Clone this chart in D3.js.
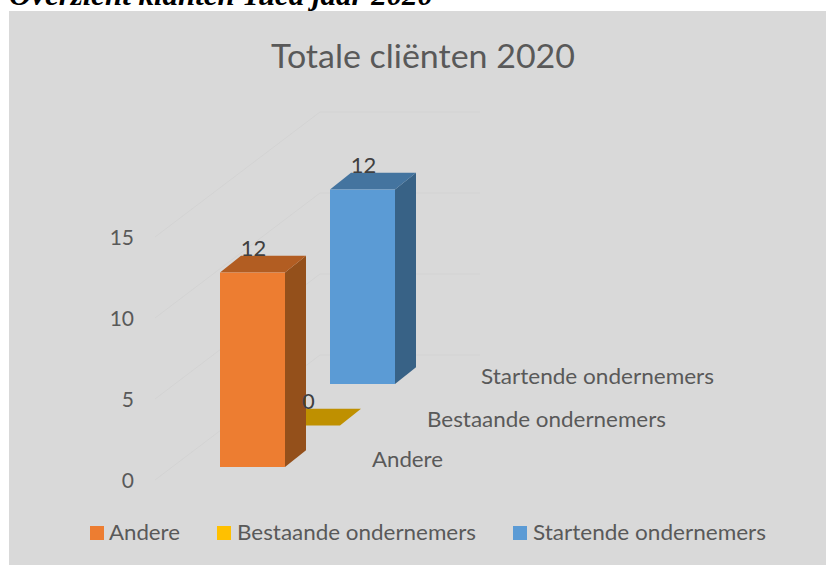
<!DOCTYPE html>
<html><head><meta charset="utf-8">
<script src="https://cdn.jsdelivr.net/npm/d3@7"></script>
<style>html,body{margin:0;padding:0;background:#fff}svg{display:block}text{font-family:Lato,"Open Sans",sans-serif}</style>
</head><body><svg id="c" width="826" height="565"></svg>
<script>
const heading = "Overzicht klanten Yuca jaar 2020";
const chartTitle = "Totale cliënten 2020";
const categories = ["Andere", "Bestaande ondernemers", "Startende ondernemers"];
const values = [12, 0, 12];
const yTicks = [0, 5, 10, 15];
const frontColors = ["#ed7d31", "#ffc000", "#5b9bd5"];
const topColors = ["#b25d22", "#bf9000", "#44749f"];
const sideColors = ["#94501b", "#a07800", "#386286"];
const labelWidths = [71, 239, 233];

const svg = d3.select("#c");
svg.append("rect").attr("x", 9).attr("y", 11).attr("width", 817).attr("height", 554).attr("fill", "#d9d9d9");
svg.append("text").text(heading).attr("x", 9).attr("y", 5)
  .attr("textLength", 424).attr("lengthAdjust", "spacingAndGlyphs")
  .style("font-family", "'Liberation Serif'").style("font-weight", "bold").style("font-style", "italic")
  .style("font-size", "30px").attr("fill", "#000");
svg.append("text").text(chartTitle).attr("x", 271).attr("y", 67.5)
  .attr("textLength", 304).attr("lengthAdjust", "spacingAndGlyphs")
  .style("font-size", "33px").attr("fill", "#595959");

const y = d3.scaleLinear().domain([0, 15]).range([480, 237]);
const depth = d3.scaleLinear().domain([0, 2]).range([0, 1]);
const dx = d3.scaleLinear().domain([0, 1]).range([0, 110]);
const dy = d3.scaleLinear().domain([0, 1]).range([0, -83]);
const barX = d3.scaleLinear().domain([0, 1]).range([220, 285]);
const barBase = 467;
const unit = y(0) - y(1);
const wallDx = 165, wallDy = -125, wallEnd = 480;

const grid = svg.append("g").attr("fill", "none").attr("stroke", "#d3d3d3").attr("stroke-width", 1);
yTicks.forEach(t => {
  grid.append("path").attr("d", d3.line()([[155, y(t)], [155 + wallDx, y(t) + wallDy], [wallEnd, y(t) + wallDy]]));
});
svg.append("g").selectAll("text").data(yTicks).join("text")
  .text(d => d).attr("x", 134).attr("y", d => y(d) + 8).attr("text-anchor", "end")
  .style("font-size", "21px").attr("fill", "#595959");

const depthDx = 21, depthDy = -16.8;
const order = d3.range(categories.length).reverse();
const bars = svg.append("g");
order.forEach(i => {
  const ox = dx(depth(i)), oy = dy(depth(i));
  const x0 = barX(0) + ox, x1 = barX(1) + ox, b = barBase + oy, t = b - values[i] * unit;
  const line = d3.line();
  bars.append("path").attr("d", line([[x1, b], [x1 + depthDx, b + depthDy], [x1 + depthDx, t + depthDy], [x1, t]]) + "Z").attr("fill", sideColors[i]);
  bars.append("path").attr("d", line([[x0, t], [x0 + depthDx, t + depthDy], [x1 + depthDx, t + depthDy], [x1, t]]) + "Z").attr("fill", topColors[i]);
  if (values[i] > 0) bars.append("rect").attr("x", x0).attr("y", t).attr("width", x1 - x0).attr("height", b - t).attr("fill", frontColors[i]);
});
svg.append("g").selectAll("text").data(categories).join("text")
  .text((d, i) => values[i])
  .attr("x", (d, i) => (barX(0) + barX(1)) / 2 + dx(depth(i)) + 1)
  .attr("y", (d, i) => barBase + dy(depth(i)) - values[i] * unit + depthDy)
  .attr("text-anchor", "middle").style("font-size", "22px").attr("fill", "#404040");

const catX = [372, 427, 481], catY = [467, 427, 384];
svg.append("g").selectAll("text").data(categories).join("text")
  .text(d => d).attr("x", (d, i) => catX[i]).attr("y", (d, i) => catY[i])
  .attr("textLength", (d, i) => labelWidths[i]).attr("lengthAdjust", "spacingAndGlyphs")
  .style("font-size", "21.5px").attr("fill", "#595959");

const legX = [90, 217, 513], legTextX = [109, 237, 533];
const lg = svg.append("g");
categories.forEach((c, i) => {
  lg.append("rect").attr("x", legX[i]).attr("y", 526).attr("width", 14).attr("height", 14).attr("fill", frontColors[i]);
  lg.append("text").text(c).attr("x", legTextX[i]).attr("y", 540)
    .attr("textLength", labelWidths[i]).attr("lengthAdjust", "spacingAndGlyphs")
    .style("font-size", "21.5px").attr("fill", "#595959");
});
</script></body></html>
